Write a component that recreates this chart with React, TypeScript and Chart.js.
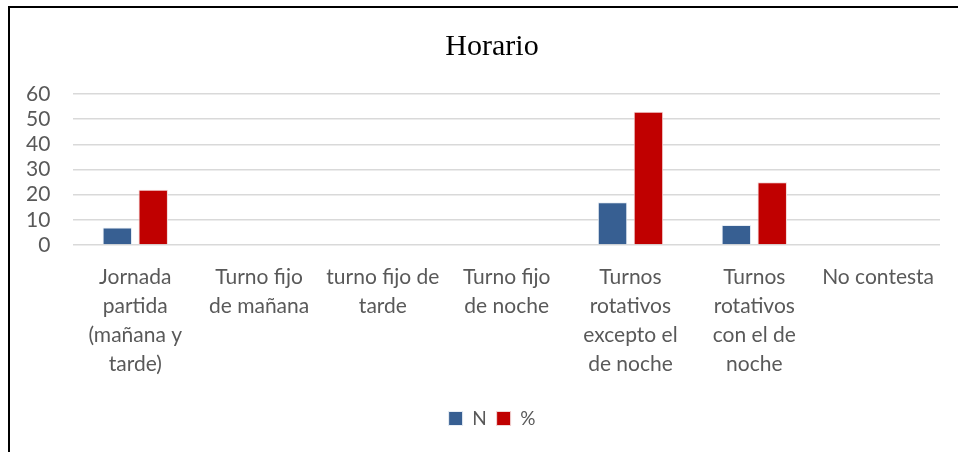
import React, { useEffect, useRef } from "react";
import { Chart, registerables } from "chart.js";

Chart.register(...registerables);

const categories: string[][] = [
  ["Jornada", "partida", "(mañana y", "tarde)"],
  ["Turno fijo", "de mañana"],
  ["turno fijo de", "tarde"],
  ["Turno fijo", "de noche"],
  ["Turnos", "rotativos", "excepto el", "de noche"],
  ["Turnos", "rotativos", "con el de", "noche"],
  ["No contesta"],
];
const seriesN: number[] = [7, 0, 0, 0, 17, 8, 0];
const seriesPct: number[] = [22, 0, 0, 0, 53, 25, 0];
const yTicks: number[] = [0, 10, 20, 30, 40, 50, 60];
const title = "Horario";

export default function App() {
  const ref = useRef<HTMLCanvasElement>(null);
  useEffect(() => {
    if (!ref.current) return;
    const font = "Lato, 'Open Sans', sans-serif";
    const chart = new Chart(ref.current, {
      type: "bar",
      data: {
        labels: categories,
        datasets: [
          {
            label: "N",
            data: seriesN,
            backgroundColor: "#375F92",
            borderColor: "#E8EEF5",
            borderWidth: 1,
            barPercentage: 0.82,
            categoryPercentage: 0.58,
          },
          {
            label: "%",
            data: seriesPct,
            backgroundColor: "#C00000",
            borderColor: "#F2D6D6",
            borderWidth: 1,
            barPercentage: 0.82,
            categoryPercentage: 0.58,
          },
        ],
      },
      options: {
        responsive: false,
        animation: false,
        layout: { padding: { left: 44, right: 18, top: 22, bottom: 14 } },
        plugins: {
          title: {
            display: true,
            text: title,
            color: "#000",
            font: { family: "'Liberation Serif', 'Times New Roman', serif", size: 30, weight: "normal", lineHeight: 1.2 },
            padding: { top: 7, bottom: 29 },
          },
          legend: {
            position: "bottom",
            labels: {
              color: "#595959",
              font: { family: font, size: 19 },
              boxWidth: 14,
              boxHeight: 14,
              padding: 10,
            },
          },
          tooltip: { enabled: false },
        },
        scales: {
          x: {
            grid: { display: false, drawTicks: false },
            border: { display: false },
            ticks: {
              color: "#595959",
              font: { family: font, size: 21, lineHeight: 1.38 },
              maxRotation: 0,
              autoSkip: false,
              padding: 18,
            },
            afterFit: (scale: any) => {
              scale.height += 2;
              scale.paddingLeft = 0;
              scale.paddingRight = 0;
            },
          },
          y: {
            min: 0,
            max: 60,
            afterBuildTicks: (axis: any) => {
              axis.ticks = yTicks.map((v) => ({ value: v }));
            },
            afterFit: (scale: any) => {
              scale.width -= 41;
              scale._computeLabelArea = () => null;
            },
            grid: { color: "#D9D9D9", lineWidth: 1.5, drawTicks: false },
            border: { display: false },
            ticks: {
              color: "#595959",
              font: { family: font, size: 21 },
              padding: 23,
              autoSkip: false,
            },
          },
        },
      },
    });
    return () => chart.destroy();
  }, []);
  return (
    <div style={{ position: "absolute", left: 0, top: 0, width: 958, height: 452, background: "#fff" }}>
      <canvas ref={ref} width={958} height={452} style={{ position: "absolute", left: 0, top: 0 }} />
      <div
        style={{
          position: "absolute",
          left: 8,
          top: 6,
          width: 948,
          height: 446,
          borderTop: "2px solid #000",
          borderLeft: "2px solid #000",
          pointerEvents: "none",
        }}
      />
    </div>
  );
}
